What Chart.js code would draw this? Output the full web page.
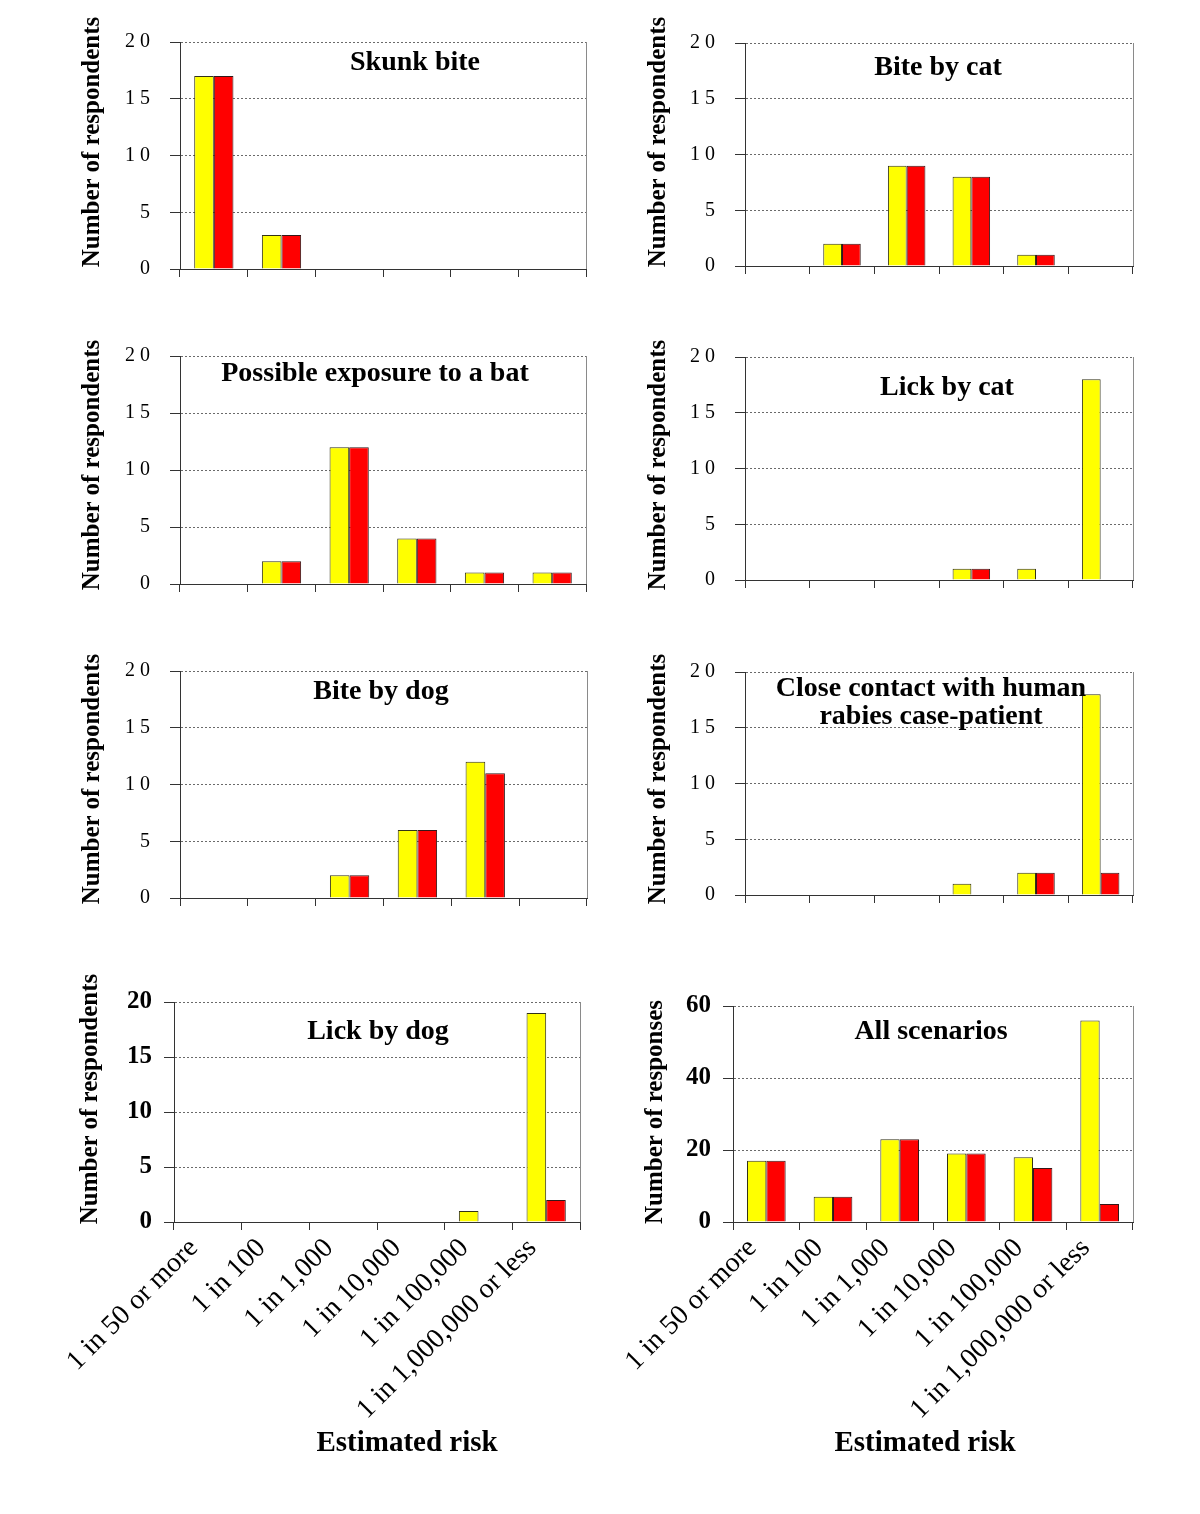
<!DOCTYPE html>
<html><head><meta charset="utf-8">
<script src="https://cdn.jsdelivr.net/npm/chart.js@4/dist/chart.umd.min.js"></script>
<style>
html,body{margin:0;padding:0;background:#fff;}
#page{position:relative;width:1200px;height:1514px;overflow:hidden;background:#fff;}
#page canvas{position:absolute;left:0;top:0;}
.t{position:absolute;transform:translate(-50%,-50%);font-family:"Liberation Serif","Times New Roman",serif;font-weight:bold;font-size:28px;line-height:28px;white-space:nowrap;text-align:center;color:#000;z-index:10;}
.yt{position:absolute;transform:translate(-50%,-50%) rotate(-90deg);font-family:"Liberation Serif","Times New Roman",serif;font-weight:bold;font-size:25px;line-height:25px;white-space:nowrap;color:#000;z-index:10;}
</style></head><body><div id="page"></div>
<script>
// ---- data ----
const categories = ['1 in 50 or more','1 in 100','1 in 1,000','1 in 10,000','1 in 100,000','1 in 1,000,000 or less'];

const skunkYellow = [17,3,0,0,0,0];
const skunkRed    = [17,3,0,0,0,0];
const catBiteYellow = [0,2,9,8,1,0];
const catBiteRed    = [0,2,9,8,1,0];
const batYellow = [0,2,12,4,1,1];
const batRed    = [0,2,12,4,1,1];
const catLickYellow = [0,0,0,1,1,18];
const catLickRed    = [0,0,0,1,0,0];
const dogBiteYellow = [0,0,2,6,12,0];
const dogBiteRed    = [0,0,2,6,11,0];
const humanYellow = [0,0,0,1,2,18];
const humanRed    = [0,0,0,0,2,2];
const dogLickYellow = [0,0,0,0,1,19];
const dogLickRed    = [0,0,0,0,0,2];
const allYellow = [17,7,23,19,18,56];
const allRed    = [17,7,23,19,15,5];

const yTicksSpaced = ['0','5','1 0','1 5','2 0'];
const yTicksBold20 = ['0','5','10','15','20'];
const yTicksBold60 = ['0','20','40','60'];

const titles = ['Skunk bite','Bite by cat','Possible exposure to a bat','Lick by cat','Bite by dog',
  ['Close contact with human','rabies case-patient'],'Lick by dog','All scenarios'];
const yTitleRespondents = 'Number of respondents';
const yTitleResponses = 'Number of responses';
const xTitle = 'Estimated risk';

// ---- layout (positions only) ----
const panels = [
  {yellow:skunkYellow, red:skunkRed, ticks:yTicksSpaced, max:20, step:5, yt:yTitleRespondents, lx:75, x0:180, x1:586, y0:42, y1:269, bottom:false, tx:415, ty:61, yx:90, yy:142},
  {yellow:catBiteYellow, red:catBiteRed, ticks:yTicksSpaced, max:20, step:5, yt:yTitleRespondents, lx:641, x0:745, x1:1133, y0:43, y1:266, bottom:false, tx:938, ty:66, yx:656, yy:142},
  {yellow:batYellow, red:batRed, ticks:yTicksSpaced, max:20, step:5, yt:yTitleRespondents, lx:75, x0:180, x1:586, y0:356, y1:584, bottom:false, tx:375, ty:372, yx:90, yy:465},
  {yellow:catLickYellow, red:catLickRed, ticks:yTicksSpaced, max:20, step:5, yt:yTitleRespondents, lx:641, x0:745, x1:1133, y0:357, y1:580, bottom:false, tx:947, ty:386, yx:656, yy:465},
  {yellow:dogBiteYellow, red:dogBiteRed, ticks:yTicksSpaced, max:20, step:5, yt:yTitleRespondents, lx:75, x0:180, x1:587, y0:671, y1:898, bottom:false, tx:381, ty:690, yx:90, yy:779},
  {yellow:humanYellow, red:humanRed, ticks:yTicksSpaced, max:20, step:5, yt:yTitleRespondents, lx:641, x0:745, x1:1133, y0:672, y1:895, bottom:false, tx:931, ty:701, yx:656, yy:779},
  {yellow:dogLickYellow, red:dogLickRed, ticks:yTicksBold20, max:20, step:5, yt:yTitleRespondents, lx:73, x0:174, x1:580, y0:1002, y1:1222, bottom:true, tx:378, ty:1030, yx:88, yy:1099},
  {yellow:allYellow, red:allRed, ticks:yTicksBold60, max:60, step:20, yt:yTitleResponses, lx:638, x0:733, x1:1133, y0:1006, y1:1222, bottom:true, tx:931, ty:1030, yx:653, yy:1112}
];

const FONT = '"Liberation Serif","Times New Roman",serif';
Chart.defaults.color = '#000';
Chart.defaults.font.family = FONT;

const frame = {
  id:'frame',
  beforeDatasetsDraw(chart){
    const {ctx, chartArea:a} = chart;
    ctx.save();
    ctx.strokeStyle = '#8a8a8a';
    ctx.lineWidth = 1;
    ctx.beginPath();
    ctx.moveTo(Math.round(a.right)+0.5, a.top);
    ctx.lineTo(Math.round(a.right)+0.5, a.bottom);
    ctx.stroke();
    ctx.restore();
  }
};

const page = document.getElementById('page');

function addText(cls, x, y, text){
  const d = document.createElement('div');
  d.className = cls;
  d.style.left = x + 'px';
  d.style.top = y + 'px';
  if (Array.isArray(text)) {
    text.forEach((line, k) => { if (k) d.appendChild(document.createElement('br')); d.appendChild(document.createTextNode(line)); });
  } else d.textContent = text;
  page.appendChild(d);
}

panels.forEach((p, i) => {
  const cv = document.createElement('canvas');
  cv.width = 1200; cv.height = 1514;
  page.appendChild(cv);
  const Hx = p.bottom ? 200 : 9;
  new Chart(cv, {
    type:'bar',
    data:{labels:categories, datasets:[
      {label:'Yellow', data:p.yellow, backgroundColor:'#ffff00', borderColor:'#333318', borderWidth:1},
      {label:'Red', data:p.red, backgroundColor:'#ff0000', borderColor:'#331818', borderWidth:1}
    ]},
    options:{
      responsive:false, animation:false, devicePixelRatio:1,
      layout:{padding:{left:p.lx, top:p.y0, right:1200-p.x1, bottom:1514-p.y1-Hx}},
      plugins:{legend:{display:false}, tooltip:{enabled:false}, title:{display:false}},
      datasets:{bar:{categoryPercentage:0.58, barPercentage:1}},
      scales:{
        x:{
          offset:true,
          grid:{offset:true, drawOnChartArea:false, drawTicks:true, tickLength:8, color:'#333'},
          border:{color:'#333', width:1},
          ticks:{display:p.bottom, autoSkip:false, minRotation:45, maxRotation:45, padding:2, labelOffset:-14, color:'#000',
                 font:{family:FONT, size:28}},
          afterFit(s){ s.height = Hx; s.paddingLeft = 0; s.paddingRight = 0; }
        },
        y:{
          min:0, max:p.max,
          ticks:{stepSize:p.step, padding:p.bottom ? 12 : 20, color:'#000',
                 font:{family:FONT, size:p.bottom ? 25 : 20, weight:p.bottom ? 'bold' : 'normal'},
                 callback:(v, idx) => p.ticks[idx]},
          grid:{color:'#6a6a6a', tickColor:'#333', tickLength:10, lineWidth:1},
          border:{color:'#333', width:1, dash:[2,2]},
          title:{display:false},
          afterFit(s){ s.width = p.x0 - p.lx; }
        }
      }
    },
    plugins:[frame]
  });
  addText('t', p.tx, p.ty, titles[i]);
  addText('yt', p.yx, p.yy, p.yt);
});

[[407,1441],[925,1441]].forEach(([x,y]) => addText('t', x, y, xTitle));
document.querySelectorAll('.t').forEach(el => { if (el.textContent === xTitle) el.style.fontSize = '29px'; });
</script>
</body></html>
